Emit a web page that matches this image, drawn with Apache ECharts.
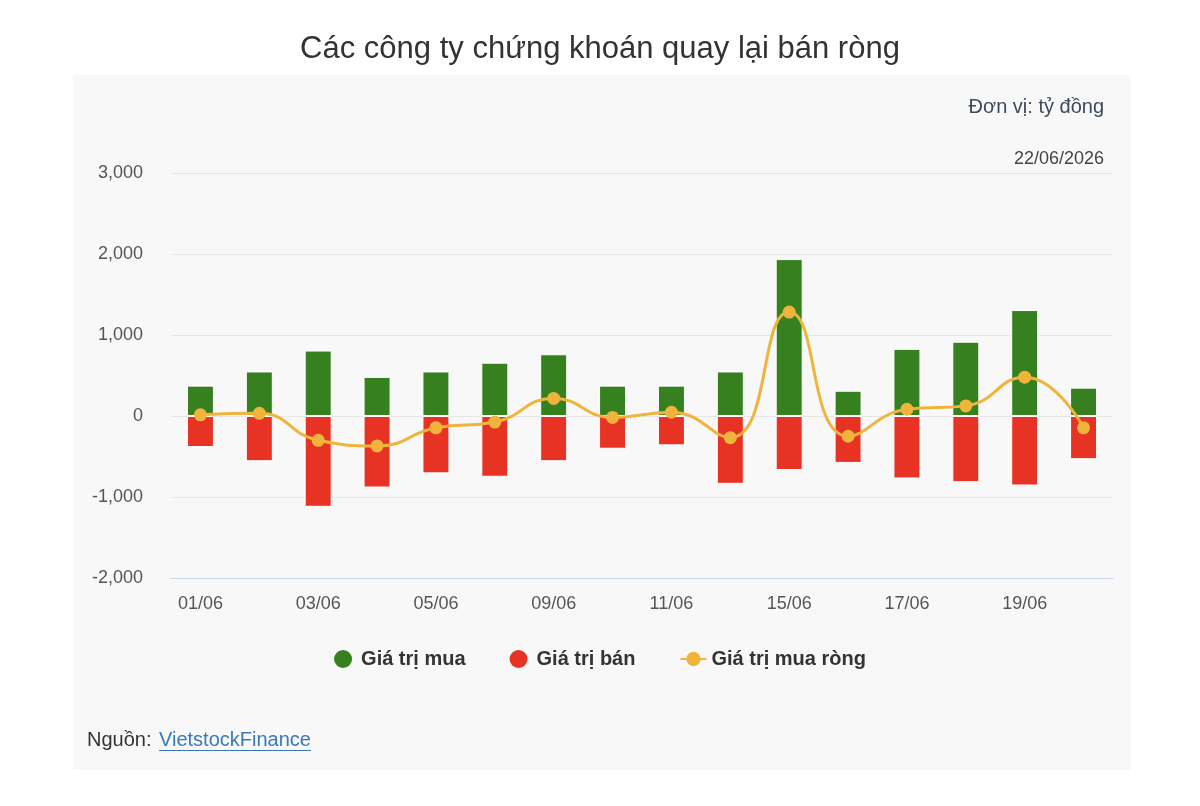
<!DOCTYPE html>
<html>
<head>
<meta charset="utf-8">
<script src="https://cdn.jsdelivr.net/npm/echarts@6/dist/echarts.min.js"></script>
<style>
  html, body { margin: 0; padding: 0; background: #fff; }
  #chart { width: 1200px; height: 806px; }
</style>
</head>
<body>
<div id="chart"></div>
<script>
const days = ['01/06', '02/06', '03/06', '04/06', '05/06', '08/06', '09/06', '10/06',
  '11/06', '12/06', '15/06', '16/06', '17/06', '18/06', '19/06', '22/06']
const buyValues = [375, 550, 808, 483, 550, 658, 762, 375, 375, 550, 1937, 312, 829, 917, 1308, 350]
const sellValues = [-383, -558, -1121, -883, -708, -750, -558, -404, -362, -837, -667, -579, -771, -817, -858, -533]
const netValues = [15, 33, -300, -370, -146, -75, 217, -17, 46, -267, 1283, -250, 83, 125, 479, -146]
const yTicks = {min: -2000, max: 3000, interval: 1000}

const font = '"Liberation Sans", Arial, sans-serif'
const chart = echarts.init(document.getElementById('chart'))

chart.setOption({
  animation: false,
  textStyle: {fontFamily: font},
  title: [
    {
      text: 'Các công ty chứng khoán quay lại bán ròng',
      left: 'center',
      top: 29,
      textStyle: {fontSize: 31, fontWeight: 'normal', color: '#333'},
    },
  ],
  graphic: [
    {
      type: 'rect',
      z: -10,
      shape: {x: 73, y: 75, width: 1058, height: 695},
      style: {fill: '#f8f8f8'},
    },
    {
      type: 'text',
      right: 96,
      top: 97,
      style: {text: 'Đơn vị: tỷ đồng', fill: '#3d4a5c', font: '20px ' + font},
    },
    {
      type: 'text',
      right: 96,
      top: 150,
      style: {text: '22/06/2026', fill: '#444', font: '18px ' + font},
    },
    {
      type: 'text',
      left: 87,
      top: 730,
      style: {text: 'Nguồn:', fill: '#333', font: '20px ' + font},
    },
    {
      type: 'text',
      left: 159,
      top: 730,
      style: {text: 'VietstockFinance', fill: '#3b78b8', font: '20px ' + font},
    },
    {
      type: 'line',
      shape: {x1: 159, y1: 750.5, x2: 311, y2: 750.5},
      style: {stroke: '#3b78b8', lineWidth: 1},
    },
  ],
  legend: {
    left: 'center',
    top: 644,
    itemGap: 44,
    itemWidth: 26,
    itemHeight: 18,
    itemStyle: {borderWidth: 0},
    textStyle: {fontSize: 20, fontWeight: 'bold', color: '#333'},
    data: [
      {name: 'Giá trị mua', icon: 'circle'},
      {name: 'Giá trị bán', icon: 'circle'},
      {name: 'Giá trị mua ròng'},
    ],
  },
  grid: {left: 171, right: 87, top: 173, bottom: 228},
  xAxis: {
    type: 'category',
    data: days,
    axisTick: {show: false},
    axisLine: {onZero: false, lineStyle: {color: '#ccd6eb'}},
    axisLabel: {interval: 1, margin: 17, fontSize: 18, color: '#555'},
  },
  yAxis: {
    type: 'value',
    min: yTicks.min,
    max: yTicks.max,
    interval: yTicks.interval,
    axisLabel: {
      fontSize: 18,
      color: '#555',
      margin: 28,
      formatter: v => v.toLocaleString('en-US'),
    },
    splitLine: {lineStyle: {color: '#e6e6e6'}},
  },
  series: [
    {
      name: 'Giá trị mua',
      type: 'bar',
      stack: 'total',
      barWidth: 27,
      data: buyValues,
      itemStyle: {color: '#37801f', borderColor: '#fff', borderWidth: 1},
    },
    {
      name: 'Giá trị bán',
      type: 'bar',
      stack: 'total',
      barWidth: 27,
      data: sellValues,
      itemStyle: {color: '#e63324', borderColor: '#fff', borderWidth: 1},
    },
    {
      name: 'Giá trị mua ròng',
      type: 'line',
      smooth: 0.5,
      data: netValues,
      symbol: 'circle',
      symbolSize: 13,
      z: 5,
      lineStyle: {color: '#f0b43c', width: 3},
      itemStyle: {color: '#f0b43c'},
    },
  ],
})
</script>
</body>
</html>
